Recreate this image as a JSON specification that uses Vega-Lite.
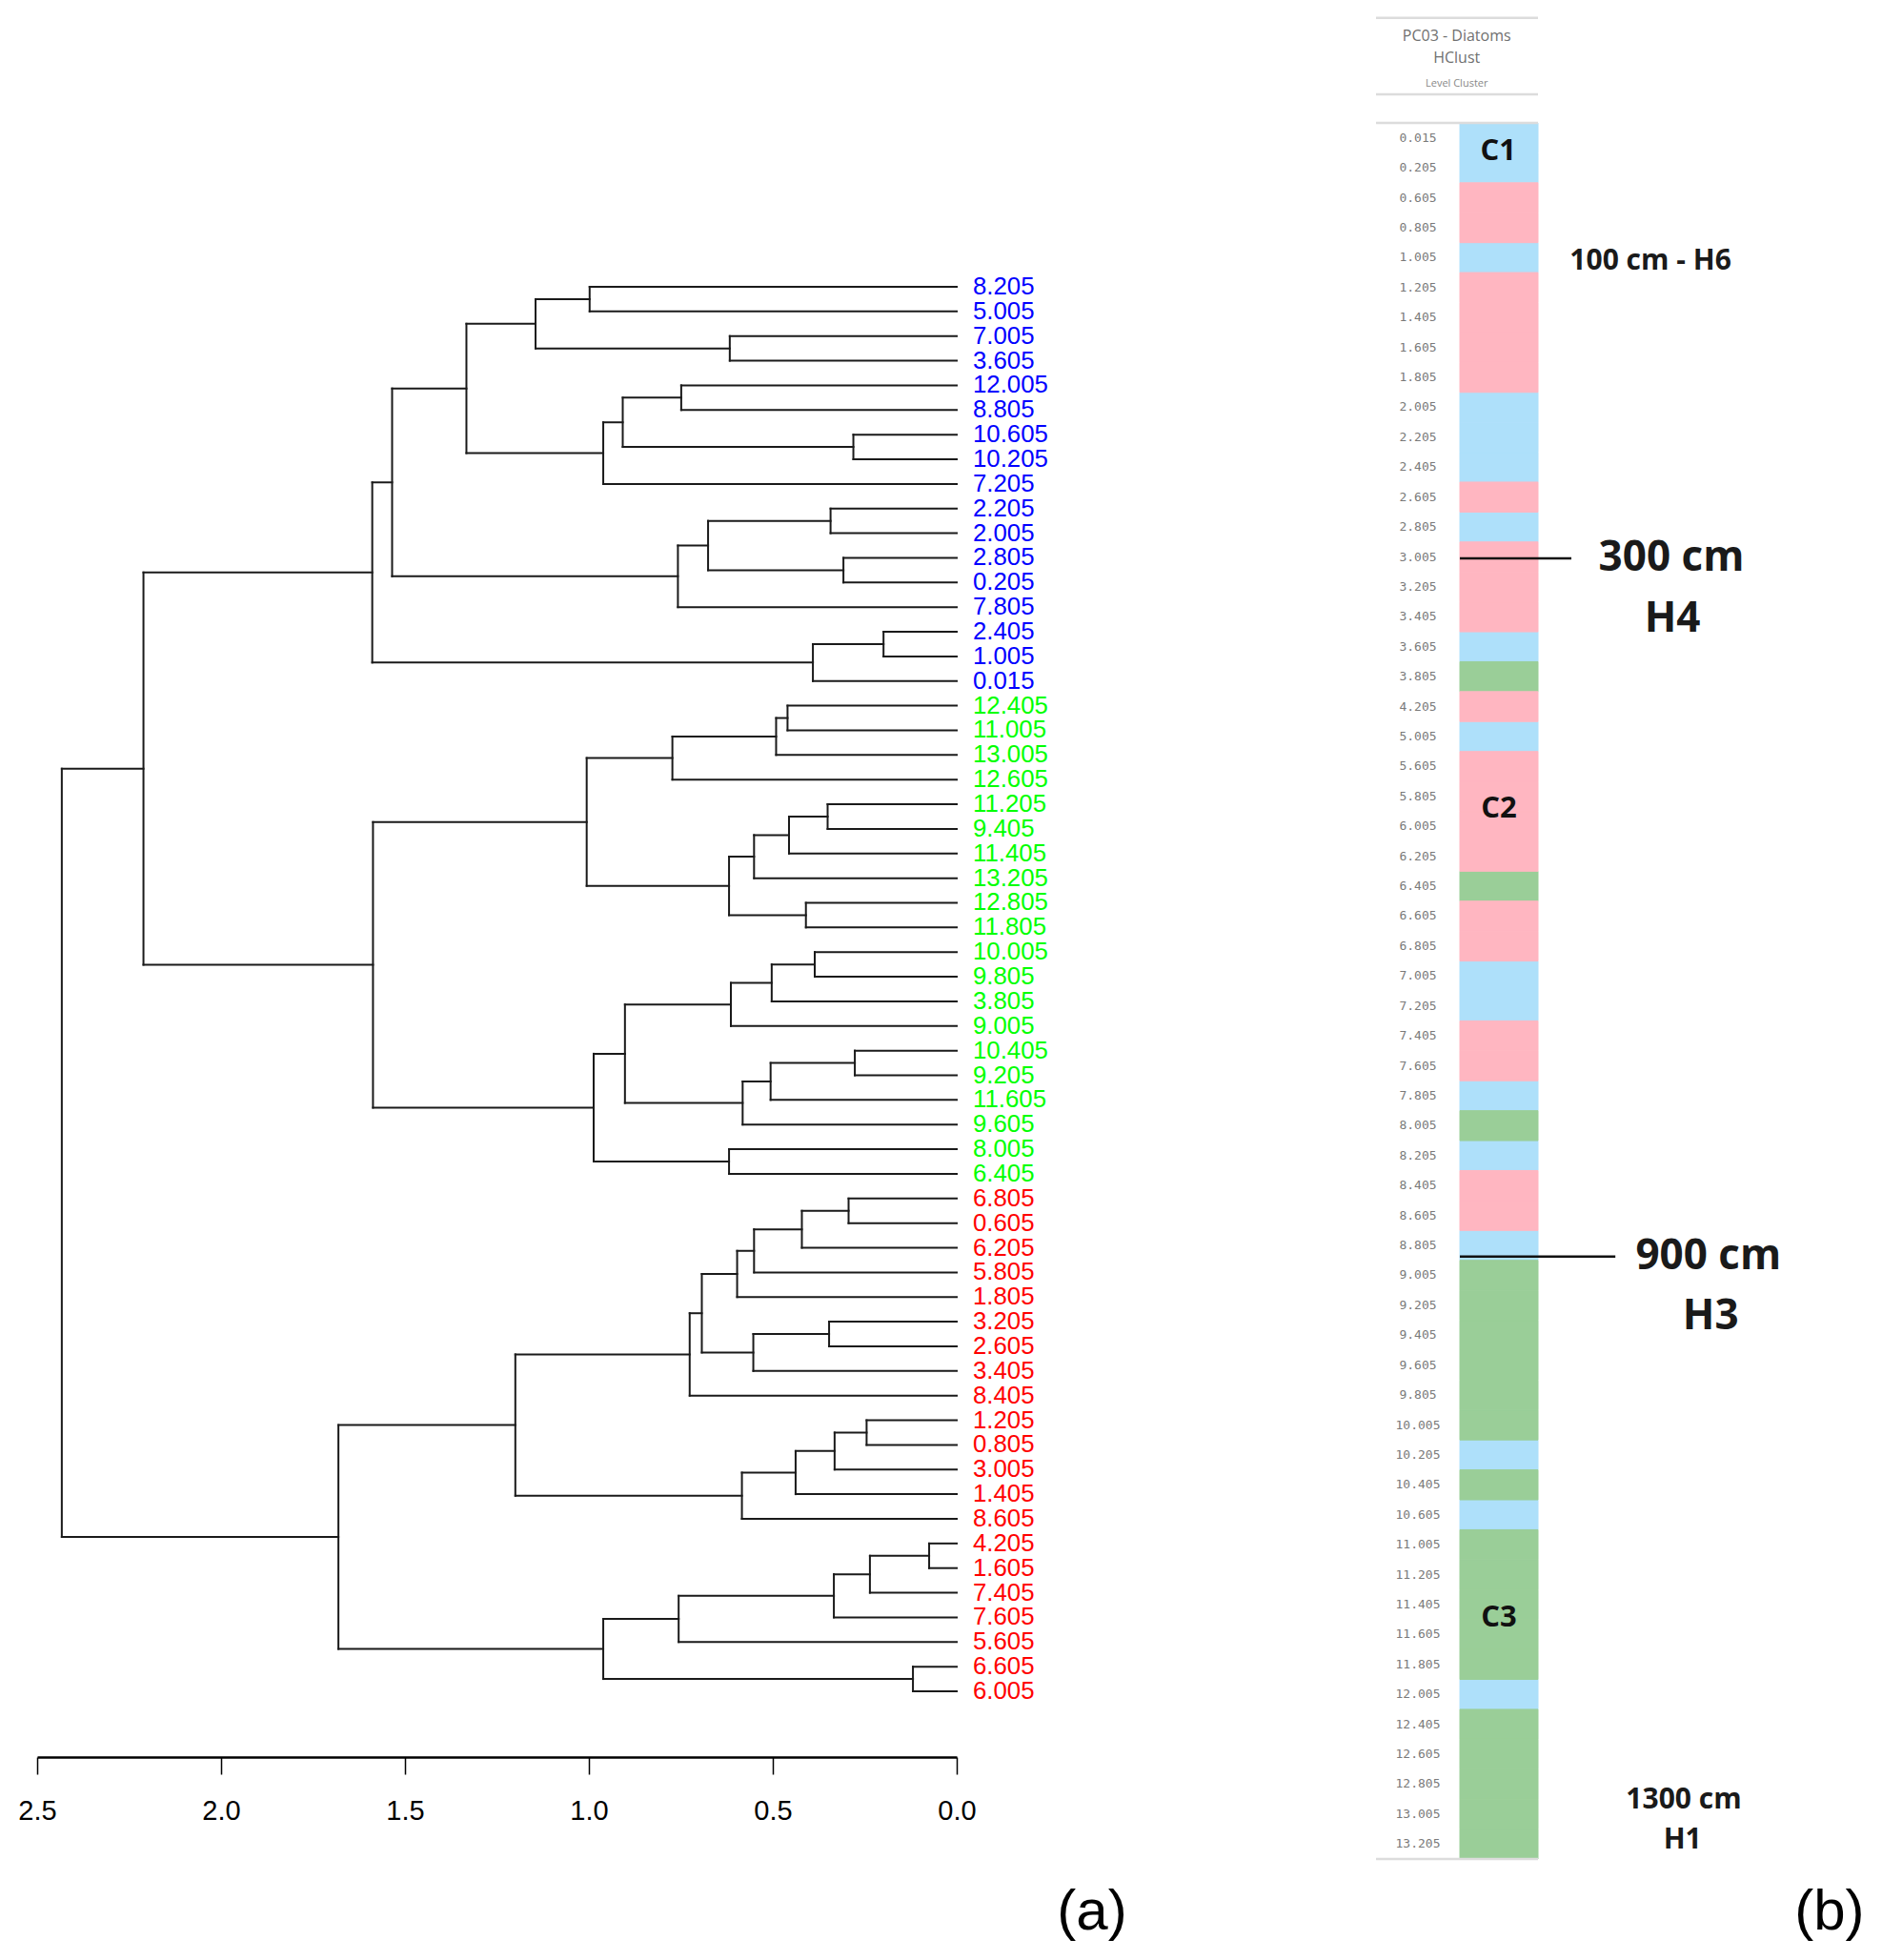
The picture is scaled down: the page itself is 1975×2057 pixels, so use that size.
{
  "$schema": "https://vega.github.io/schema/vega-lite/v6.json",
  "width": 1975,
  "height": 2057,
  "autosize": {"type": "fit", "contains": "padding"},
  "padding": 0,
  "background": "white",
  "config": {"view": {"stroke": null}, "axis": {"grid": false}},
  "datasets": {
    "merges": [
      {"h": 0.998, "p1": 1, "h1": 0, "p2": 2, "h2": 0},
      {"h": 0.617, "p1": 3, "h1": 0, "p2": 4, "h2": 0},
      {"h": 1.145, "p1": 1.5, "h1": 0.998, "p2": 3.5, "h2": 0.617},
      {"h": 0.749, "p1": 5, "h1": 0, "p2": 6, "h2": 0},
      {"h": 0.281, "p1": 7, "h1": 0, "p2": 8, "h2": 0},
      {"h": 0.908, "p1": 5.5, "h1": 0.749, "p2": 7.5, "h2": 0.281},
      {"h": 0.961, "p1": 6.5, "h1": 0.908, "p2": 9, "h2": 0},
      {"h": 1.333, "p1": 2.5, "h1": 1.145, "p2": 7.75, "h2": 0.961},
      {"h": 0.343, "p1": 10, "h1": 0, "p2": 11, "h2": 0},
      {"h": 0.308, "p1": 12, "h1": 0, "p2": 13, "h2": 0},
      {"h": 0.676, "p1": 10.5, "h1": 0.343, "p2": 12.5, "h2": 0.308},
      {"h": 0.758, "p1": 11.5, "h1": 0.676, "p2": 14, "h2": 0},
      {"h": 1.535, "p1": 5.125, "h1": 1.333, "p2": 12.75, "h2": 0.758},
      {"h": 0.199, "p1": 15, "h1": 0, "p2": 16, "h2": 0},
      {"h": 0.391, "p1": 15.5, "h1": 0.199, "p2": 17, "h2": 0},
      {"h": 1.589, "p1": 8.9375, "h1": 1.535, "p2": 16.25, "h2": 0.391},
      {"h": 0.46, "p1": 18, "h1": 0, "p2": 19, "h2": 0},
      {"h": 0.491, "p1": 18.5, "h1": 0.46, "p2": 20, "h2": 0},
      {"h": 0.773, "p1": 19.25, "h1": 0.491, "p2": 21, "h2": 0},
      {"h": 0.351, "p1": 22, "h1": 0, "p2": 23, "h2": 0},
      {"h": 0.456, "p1": 22.5, "h1": 0.351, "p2": 24, "h2": 0},
      {"h": 0.551, "p1": 23.25, "h1": 0.456, "p2": 25, "h2": 0},
      {"h": 0.41, "p1": 26, "h1": 0, "p2": 27, "h2": 0},
      {"h": 0.619, "p1": 24.125, "h1": 0.551, "p2": 26.5, "h2": 0.41},
      {"h": 1.006, "p1": 20.125, "h1": 0.773, "p2": 25.3125, "h2": 0.619},
      {"h": 0.386, "p1": 28, "h1": 0, "p2": 29, "h2": 0},
      {"h": 0.503, "p1": 28.5, "h1": 0.386, "p2": 30, "h2": 0},
      {"h": 0.614, "p1": 29.25, "h1": 0.503, "p2": 31, "h2": 0},
      {"h": 0.277, "p1": 32, "h1": 0, "p2": 33, "h2": 0},
      {"h": 0.506, "p1": 32.5, "h1": 0.277, "p2": 34, "h2": 0},
      {"h": 0.582, "p1": 33.25, "h1": 0.506, "p2": 35, "h2": 0},
      {"h": 0.902, "p1": 30.125, "h1": 0.614, "p2": 34.125, "h2": 0.582},
      {"h": 0.619, "p1": 36, "h1": 0, "p2": 37, "h2": 0},
      {"h": 0.987, "p1": 32.125, "h1": 0.902, "p2": 36.5, "h2": 0.619},
      {"h": 1.587, "p1": 22.71875, "h1": 1.006, "p2": 34.3125, "h2": 0.987},
      {"h": 2.211, "p1": 12.59375, "h1": 1.589, "p2": 28.515625, "h2": 1.587},
      {"h": 0.294, "p1": 38, "h1": 0, "p2": 39, "h2": 0},
      {"h": 0.421, "p1": 38.5, "h1": 0.294, "p2": 40, "h2": 0},
      {"h": 0.551, "p1": 39.25, "h1": 0.421, "p2": 41, "h2": 0},
      {"h": 0.597, "p1": 40.125, "h1": 0.551, "p2": 42, "h2": 0},
      {"h": 0.347, "p1": 43, "h1": 0, "p2": 44, "h2": 0},
      {"h": 0.553, "p1": 43.5, "h1": 0.347, "p2": 45, "h2": 0},
      {"h": 0.693, "p1": 41.0625, "h1": 0.597, "p2": 44.25, "h2": 0.553},
      {"h": 0.726, "p1": 42.65625, "h1": 0.693, "p2": 46, "h2": 0},
      {"h": 0.245, "p1": 47, "h1": 0, "p2": 48, "h2": 0},
      {"h": 0.332, "p1": 47.5, "h1": 0.245, "p2": 49, "h2": 0},
      {"h": 0.438, "p1": 48.25, "h1": 0.332, "p2": 50, "h2": 0},
      {"h": 0.584, "p1": 49.125, "h1": 0.438, "p2": 51, "h2": 0},
      {"h": 1.2, "p1": 44.328125, "h1": 0.726, "p2": 50.0625, "h2": 0.584},
      {"h": 0.075, "p1": 52, "h1": 0, "p2": 53, "h2": 0},
      {"h": 0.236, "p1": 52.5, "h1": 0.075, "p2": 54, "h2": 0},
      {"h": 0.334, "p1": 53.25, "h1": 0.236, "p2": 55, "h2": 0},
      {"h": 0.756, "p1": 54.125, "h1": 0.334, "p2": 56, "h2": 0},
      {"h": 0.119, "p1": 57, "h1": 0, "p2": 58, "h2": 0},
      {"h": 0.961, "p1": 55.0625, "h1": 0.756, "p2": 57.5, "h2": 0.119},
      {"h": 1.681, "p1": 47.1953125, "h1": 1.2, "p2": 56.28125, "h2": 0.961},
      {"h": 2.433, "p1": 20.5546875, "h1": 2.211, "p2": 51.73828125, "h2": 1.681}
    ],
    "samples": [
      {"label": "8.205", "m": 8.205, "cluster": "C1", "leaf": 1},
      {"label": "5.005", "m": 5.005, "cluster": "C1", "leaf": 2},
      {"label": "7.005", "m": 7.005, "cluster": "C1", "leaf": 3},
      {"label": "3.605", "m": 3.605, "cluster": "C1", "leaf": 4},
      {"label": "12.005", "m": 12.005, "cluster": "C1", "leaf": 5},
      {"label": "8.805", "m": 8.805, "cluster": "C1", "leaf": 6},
      {"label": "10.605", "m": 10.605, "cluster": "C1", "leaf": 7},
      {"label": "10.205", "m": 10.205, "cluster": "C1", "leaf": 8},
      {"label": "7.205", "m": 7.205, "cluster": "C1", "leaf": 9},
      {"label": "2.205", "m": 2.205, "cluster": "C1", "leaf": 10},
      {"label": "2.005", "m": 2.005, "cluster": "C1", "leaf": 11},
      {"label": "2.805", "m": 2.805, "cluster": "C1", "leaf": 12},
      {"label": "0.205", "m": 0.205, "cluster": "C1", "leaf": 13},
      {"label": "7.805", "m": 7.805, "cluster": "C1", "leaf": 14},
      {"label": "2.405", "m": 2.405, "cluster": "C1", "leaf": 15},
      {"label": "1.005", "m": 1.005, "cluster": "C1", "leaf": 16},
      {"label": "0.015", "m": 0.015, "cluster": "C1", "leaf": 17},
      {"label": "12.405", "m": 12.405, "cluster": "C3", "leaf": 18},
      {"label": "11.005", "m": 11.005, "cluster": "C3", "leaf": 19},
      {"label": "13.005", "m": 13.005, "cluster": "C3", "leaf": 20},
      {"label": "12.605", "m": 12.605, "cluster": "C3", "leaf": 21},
      {"label": "11.205", "m": 11.205, "cluster": "C3", "leaf": 22},
      {"label": "9.405", "m": 9.405, "cluster": "C3", "leaf": 23},
      {"label": "11.405", "m": 11.405, "cluster": "C3", "leaf": 24},
      {"label": "13.205", "m": 13.205, "cluster": "C3", "leaf": 25},
      {"label": "12.805", "m": 12.805, "cluster": "C3", "leaf": 26},
      {"label": "11.805", "m": 11.805, "cluster": "C3", "leaf": 27},
      {"label": "10.005", "m": 10.005, "cluster": "C3", "leaf": 28},
      {"label": "9.805", "m": 9.805, "cluster": "C3", "leaf": 29},
      {"label": "3.805", "m": 3.805, "cluster": "C3", "leaf": 30},
      {"label": "9.005", "m": 9.005, "cluster": "C3", "leaf": 31},
      {"label": "10.405", "m": 10.405, "cluster": "C3", "leaf": 32},
      {"label": "9.205", "m": 9.205, "cluster": "C3", "leaf": 33},
      {"label": "11.605", "m": 11.605, "cluster": "C3", "leaf": 34},
      {"label": "9.605", "m": 9.605, "cluster": "C3", "leaf": 35},
      {"label": "8.005", "m": 8.005, "cluster": "C3", "leaf": 36},
      {"label": "6.405", "m": 6.405, "cluster": "C3", "leaf": 37},
      {"label": "6.805", "m": 6.805, "cluster": "C2", "leaf": 38},
      {"label": "0.605", "m": 0.605, "cluster": "C2", "leaf": 39},
      {"label": "6.205", "m": 6.205, "cluster": "C2", "leaf": 40},
      {"label": "5.805", "m": 5.805, "cluster": "C2", "leaf": 41},
      {"label": "1.805", "m": 1.805, "cluster": "C2", "leaf": 42},
      {"label": "3.205", "m": 3.205, "cluster": "C2", "leaf": 43},
      {"label": "2.605", "m": 2.605, "cluster": "C2", "leaf": 44},
      {"label": "3.405", "m": 3.405, "cluster": "C2", "leaf": 45},
      {"label": "8.405", "m": 8.405, "cluster": "C2", "leaf": 46},
      {"label": "1.205", "m": 1.205, "cluster": "C2", "leaf": 47},
      {"label": "0.805", "m": 0.805, "cluster": "C2", "leaf": 48},
      {"label": "3.005", "m": 3.005, "cluster": "C2", "leaf": 49},
      {"label": "1.405", "m": 1.405, "cluster": "C2", "leaf": 50},
      {"label": "8.605", "m": 8.605, "cluster": "C2", "leaf": 51},
      {"label": "4.205", "m": 4.205, "cluster": "C2", "leaf": 52},
      {"label": "1.605", "m": 1.605, "cluster": "C2", "leaf": 53},
      {"label": "7.405", "m": 7.405, "cluster": "C2", "leaf": 54},
      {"label": "7.605", "m": 7.605, "cluster": "C2", "leaf": 55},
      {"label": "5.605", "m": 5.605, "cluster": "C2", "leaf": 56},
      {"label": "6.605", "m": 6.605, "cluster": "C2", "leaf": 57},
      {"label": "6.005", "m": 6.005, "cluster": "C2", "leaf": 58}
    ],
    "frameLines": [
      {"row": -3.51, "c0": -1.073, "c1": 1},
      {"row": -0.955, "c0": -1.073, "c1": 1},
      {"row": 0, "c0": -1.073, "c1": 1},
      {"row": 58, "c0": -1.073, "c1": 1}
    ],
    "depthMarkers": [
      {"row": 14.55, "c0": 0, "c1": 1.427},
      {"row": 37.87, "c0": 0, "c1": 1.99}
    ],
    "bigNotes": [
      {"t": "300 cm", "col": 2.707, "row": 14.55},
      {"t": "H4", "col": 2.72, "row": 16.57},
      {"t": "900 cm", "col": 3.18, "row": 37.87},
      {"t": "H3", "col": 3.21, "row": 39.9}
    ],
    "midNotes": [
      {"t": "100 cm - H6", "col": 2.44, "row": 4.6},
      {"t": "1300 cm", "col": 2.866, "row": 56.03},
      {"t": "H1", "col": 2.85, "row": 57.35}
    ],
    "clusterNotes": [
      {"t": "C1", "col": 0.49, "row": 0.94},
      {"t": "C2", "col": 0.5, "row": 22.92},
      {"t": "C3", "col": 0.5, "row": 49.95}
    ],
    "headerNotes": [
      {"t": "PC03 - Diatoms", "col": -0.04, "row": -2.9},
      {"t": "HClust", "col": -0.04, "row": -2.165}
    ],
    "subHeader": [{"t": "Level Cluster", "col": -0.04, "row": -1.32}],
    "captions": [
      {"t": "(a)", "col": -4.707, "row": 59.79},
      {"t": "(b)", "col": 4.73, "row": 59.79}
    ]
  },
  "layer": [
    {
      "data": {"name": "merges"},
      "mark": {"type": "rule", "color": "#1a1a1a", "strokeWidth": 2, "strokeCap": "square"},
      "encoding": {
        "x": {
          "field": "h", "type": "quantitative",
          "scale": {"domain": [0, 2.5], "range": [1004, 39], "nice": false, "zero": false},
          "axis": {
            "orient": "bottom", "offset": -213, "values": [2.5, 2, 1.5, 1, 0.5, 0], "format": ".1f",
            "domain": true, "domainColor": "#000000", "domainWidth": 2.5,
            "ticks": true, "tickSize": 18, "tickColor": "#000000", "tickWidth": 1.5,
            "labelFont": "Liberation Sans", "labelFontSize": 29, "labelColor": "#000000",
            "labelPadding": 24, "labelFlush": false, "labelOverlap": false, "grid": false, "title": null
          }
        },
        "y": {
          "field": "p1", "type": "quantitative",
          "scale": {"domain": [1, 58], "range": [301, 1775], "nice": false, "zero": false},
          "axis": null
        },
        "y2": {"field": "p2"}
      }
    },
    {
      "data": {"name": "merges"},
      "mark": {"type": "rule", "color": "#1a1a1a", "strokeWidth": 2, "strokeCap": "square"},
      "encoding": {
        "x": {"field": "h1", "type": "quantitative", "scale": {"domain": [0, 2.5], "range": [1004, 39], "nice": false, "zero": false}, "axis": null},
        "x2": {"field": "h"},
        "y": {"field": "p1", "type": "quantitative", "scale": {"domain": [1, 58], "range": [301, 1775], "nice": false, "zero": false}, "axis": null}
      }
    },
    {
      "data": {"name": "merges"},
      "mark": {"type": "rule", "color": "#1a1a1a", "strokeWidth": 2, "strokeCap": "square"},
      "encoding": {
        "x": {"field": "h2", "type": "quantitative", "scale": {"domain": [0, 2.5], "range": [1004, 39], "nice": false, "zero": false}, "axis": null},
        "x2": {"field": "h"},
        "y": {"field": "p2", "type": "quantitative", "scale": {"domain": [1, 58], "range": [301, 1775], "nice": false, "zero": false}, "axis": null}
      }
    },
    {
      "data": {"name": "samples"},
      "mark": {"type": "text", "align": "left", "baseline": "middle", "dx": 17, "font": "Liberation Sans", "fontSize": 25.8},
      "encoding": {
        "x": {"datum": 0, "type": "quantitative", "scale": {"domain": [0, 2.5], "range": [1004, 39], "nice": false, "zero": false}, "axis": null},
        "y": {"field": "leaf", "type": "quantitative", "scale": {"domain": [1, 58], "range": [301, 1775], "nice": false, "zero": false}, "axis": null},
        "text": {"field": "label"},
        "color": {
          "field": "cluster", "type": "nominal",
          "scale": {"domain": ["C1", "C2", "C3"], "range": ["#0000FF", "#FF0000", "#00FF00"]},
          "legend": null
        }
      }
    },
    {
      "data": {"name": "samples"},
      "mark": {"type": "rect", "strokeWidth": 1},
      "encoding": {
        "y": {
          "field": "label", "type": "ordinal",
          "sort": {"field": "m", "op": "min", "order": "ascending"},
          "scale": {"range": [129, 1951], "paddingInner": 0, "paddingOuter": 0},
          "axis": {
            "orient": "left", "offset": -1532, "ticks": false, "domain": false, "grid": false,
            "labelAlign": "center", "labelBaseline": "middle", "labelPadding": 44.5,
            "labelFont": "DejaVu Sans Mono", "labelFontSize": 13, "labelColor": "#7a7a7a",
            "labelOverlap": false, "labelBound": false, "title": null
          }
        },
        "x": {"datum": 0, "type": "quantitative", "scale": {"domain": [0, 1], "range": [1532, 1614], "nice": false, "zero": false}, "axis": null},
        "x2": {"datum": 1},
        "color": {
          "field": "cluster", "type": "nominal",
          "scale": {"domain": ["C1", "C2", "C3"], "range": ["#AEE0FA", "#FFB6C1", "#9ACE98"]},
          "legend": null
        },
        "stroke": {
          "field": "cluster", "type": "nominal",
          "scale": {"domain": ["C1", "C2", "C3"], "range": ["#AEE0FA", "#FFB6C1", "#9ACE98"]},
          "legend": null
        }
      }
    },
    {
      "data": {"name": "frameLines"},
      "mark": {"type": "rule", "color": "#dcdcdc", "strokeWidth": 2.5},
      "encoding": {
        "x": {"field": "c0", "type": "quantitative", "scale": {"domain": [0, 1], "range": [1532, 1614], "nice": false, "zero": false}, "axis": null},
        "x2": {"field": "c1"},
        "y": {"field": "row", "type": "quantitative", "scale": {"domain": [0, 58], "range": [129, 1951], "nice": false, "zero": false}, "axis": null}
      }
    },
    {
      "data": {"name": "depthMarkers"},
      "mark": {"type": "rule", "color": "#111111", "strokeWidth": 2.5},
      "encoding": {
        "x": {"field": "c0", "type": "quantitative", "scale": {"domain": [0, 1], "range": [1532, 1614], "nice": false, "zero": false}, "axis": null},
        "x2": {"field": "c1"},
        "y": {"field": "row", "type": "quantitative", "scale": {"domain": [0, 58], "range": [129, 1951], "nice": false, "zero": false}, "axis": null}
      }
    },
    {
      "data": {"name": "bigNotes"},
      "mark": {"type": "text", "align": "center", "baseline": "middle", "font": "Open Sans", "fontWeight": "bold", "fontSize": 44, "color": "#1a1a1a"},
      "encoding": {
        "x": {"field": "col", "type": "quantitative", "scale": {"domain": [0, 1], "range": [1532, 1614], "nice": false, "zero": false}, "axis": null},
        "y": {"field": "row", "type": "quantitative", "scale": {"domain": [0, 58], "range": [129, 1951], "nice": false, "zero": false}, "axis": null},
        "text": {"field": "t"}
      }
    },
    {
      "data": {"name": "midNotes"},
      "mark": {"type": "text", "align": "center", "baseline": "middle", "font": "Open Sans", "fontWeight": "bold", "fontSize": 30, "color": "#1a1a1a"},
      "encoding": {
        "x": {"field": "col", "type": "quantitative", "scale": {"domain": [0, 1], "range": [1532, 1614], "nice": false, "zero": false}, "axis": null},
        "y": {"field": "row", "type": "quantitative", "scale": {"domain": [0, 58], "range": [129, 1951], "nice": false, "zero": false}, "axis": null},
        "text": {"field": "t"}
      }
    },
    {
      "data": {"name": "clusterNotes"},
      "mark": {"type": "text", "align": "center", "baseline": "middle", "font": "Open Sans", "fontWeight": "bold", "fontSize": 31, "color": "#111111"},
      "encoding": {
        "x": {"field": "col", "type": "quantitative", "scale": {"domain": [0, 1], "range": [1532, 1614], "nice": false, "zero": false}, "axis": null},
        "y": {"field": "row", "type": "quantitative", "scale": {"domain": [0, 58], "range": [129, 1951], "nice": false, "zero": false}, "axis": null},
        "text": {"field": "t"}
      }
    },
    {
      "data": {"name": "headerNotes"},
      "mark": {"type": "text", "align": "center", "baseline": "middle", "font": "Open Sans", "fontSize": 16, "color": "#707070"},
      "encoding": {
        "x": {"field": "col", "type": "quantitative", "scale": {"domain": [0, 1], "range": [1532, 1614], "nice": false, "zero": false}, "axis": null},
        "y": {"field": "row", "type": "quantitative", "scale": {"domain": [0, 58], "range": [129, 1951], "nice": false, "zero": false}, "axis": null},
        "text": {"field": "t"}
      }
    },
    {
      "data": {"name": "subHeader"},
      "mark": {"type": "text", "align": "center", "baseline": "middle", "font": "Open Sans", "fontSize": 11, "color": "#888888"},
      "encoding": {
        "x": {"field": "col", "type": "quantitative", "scale": {"domain": [0, 1], "range": [1532, 1614], "nice": false, "zero": false}, "axis": null},
        "y": {"field": "row", "type": "quantitative", "scale": {"domain": [0, 58], "range": [129, 1951], "nice": false, "zero": false}, "axis": null},
        "text": {"field": "t"}
      }
    },
    {
      "data": {"name": "captions"},
      "mark": {"type": "text", "align": "center", "baseline": "middle", "font": "Liberation Sans", "fontSize": 60, "color": "#000000"},
      "encoding": {
        "x": {"field": "col", "type": "quantitative", "scale": {"domain": [0, 1], "range": [1532, 1614], "nice": false, "zero": false}, "axis": null},
        "y": {"field": "row", "type": "quantitative", "scale": {"domain": [0, 58], "range": [129, 1951], "nice": false, "zero": false}, "axis": null},
        "text": {"field": "t"}
      }
    }
  ],
  "resolve": {
    "scale": {"x": "independent", "y": "independent", "color": "independent", "stroke": "independent"},
    "axis": {"x": "independent", "y": "independent"}
  }
}
